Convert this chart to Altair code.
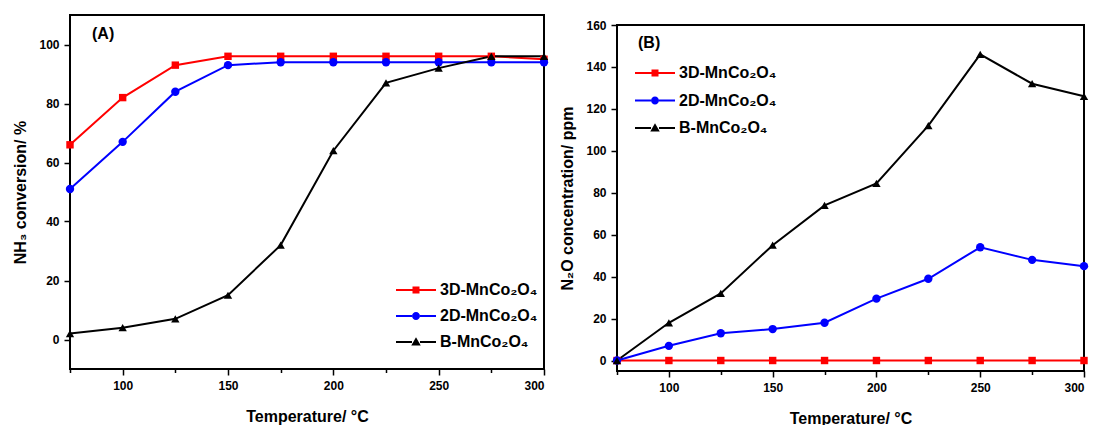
import altair as alt
import pandas as pd

temps = [75, 100, 125, 150, 175, 200, 225, 250, 275, 300]
series = ["3D-MnCo₂O₄", "2D-MnCo₂O₄", "B-MnCo₂O₄"]

nh3_3d = [66, 82, 93, 96, 96, 96, 96, 96, 96, 95]
nh3_2d = [51, 67, 84, 93, 94, 94, 94, 94, 94, 94]
nh3_b = [2, 4, 7, 15, 32, 64, 87, 92, 96, 96]

n2o_3d = [0, 0, 0, 0, 0, 0, 0, 0, 0, 0]
n2o_2d = [0, 7, 13, 15, 18, 29.5, 39, 54, 48, 45]
n2o_b = [0, 18, 32, 55, 74, 84.5, 112, 146, 132, 126]

x_ticks = [75, 100, 125, 150, 175, 200, 225, 250, 275, 300]
ya_ticks = [0, 10, 20, 30, 40, 50, 60, 70, 80, 90, 100]
yb_ticks = [0, 10, 20, 30, 40, 50, 60, 70, 80, 90, 100, 110, 120, 130, 140, 150, 160]
panel_labels = ["(A)", "(B)"]

colors = ["#ff0000", "#0000ff", "#000000"]
shapes = ["square", "circle", "triangle-up"]
marker_sizes = [55, 70, 70]
# legend glyphs: line segment with marker in the middle (unit = sqrt(size)/2)
legend_paths = [
    "M-4,-0.2H-0.7V0.2H-4Z M0.7,-0.2H4V0.2H0.7Z M-0.7,-0.7H0.7V0.7H-0.7Z",
    "M-4,-0.2H-0.8V0.2H-4Z M0.8,-0.2H4V0.2H0.8Z M0.8,0A0.8,0.8,0,1,1,-0.8,0A0.8,0.8,0,1,1,0.8,0Z",
    "M-4,-0.2H-0.8V0.2H-4Z M0.8,-0.2H4V0.2H0.8Z M0,-0.95L0.95,0.7L-0.95,0.7Z",
]

FONT = "Liberation Sans"


def make_df(vals):
    rows = []
    for s, v in zip(series, vals):
        for t, y in zip(temps, v):
            rows.append({"T": t, "val": y, "series": s})
    return pd.DataFrame(rows)


def panel(df, ydom, yticks, ytitle, label, w, h, legx, legy, rowpad, lab_xy):
    xenc = alt.X(
        "T:Q",
        scale=alt.Scale(domain=[75, 300], nice=False, zero=False),
        axis=alt.Axis(
            values=x_ticks,
            title="Temperature/ °C",
            titlePadding=17,
            labelOverlap=False,
            labelExpr="datum.value % 50 === 0 ? datum.label : ''",
            tickSize={"condition": {"test": "datum.value % 50 === 0", "value": 6}, "value": 3.5},
            labelPadding=5,
        ),
    )
    yenc = alt.Y(
        "val:Q",
        scale=alt.Scale(domain=ydom, nice=False, zero=False),
        axis=alt.Axis(
            values=yticks,
            title=ytitle,
            titlePadding=10,
            labelOverlap=False,
            labelExpr="datum.value % 20 === 0 ? datum.label : ''",
            tickSize={"condition": {"test": "datum.value % 20 === 0", "value": 6}, "value": 3.5},
            labelPadding=5,
        ),
    )
    base = alt.Chart(df)
    layers = []
    for s, col in zip(series, colors):
        sub = base.transform_filter(alt.datum.series == s)
        layers.append(sub.mark_line(strokeWidth=2, color=col).encode(x=xenc, y=yenc))
    for s, col, sh, sz in zip(series, colors, shapes, marker_sizes):
        sub = base.transform_filter(alt.datum.series == s)
        layers.append(
            sub.mark_point(shape=sh, filled=True, size=sz, opacity=1, color=col).encode(
                x="T:Q", y="val:Q"
            )
        )
    leg = alt.Legend(
        title=None,
        orient="none",
        legendX=legx,
        legendY=legy,
        labelFont=FONT,
        labelFontSize=16,
        labelFontWeight="bold",
        labelColor="black",
        labelOffset=16,
        symbolSize=100,
        symbolStrokeWidth=0,
        symbolOpacity=1,
        rowPadding=rowpad,
        padding=0,
    )
    legend_layer = (
        base.transform_filter("false")
        .mark_point(filled=True, size=100, opacity=1)
        .encode(
            color=alt.Color("series:N", scale=alt.Scale(domain=series, range=colors), legend=leg, sort=series),
            shape=alt.Shape("series:N", scale=alt.Scale(domain=series, range=legend_paths), legend=leg, sort=series),
        )
    )
    txt = (
        alt.Chart(pd.DataFrame({"label": [label]}))
        .mark_text(align="left", baseline="middle", font=FONT, fontSize=16, fontWeight="bold", color="black")
        .encode(x=alt.value(lab_xy[0]), y=alt.value(lab_xy[1]), text="label:N")
    )
    return alt.layer(*layers, legend_layer, txt).properties(width=w, height=h)


dfa = make_df([nh3_3d, nh3_2d, nh3_b])
dfb = make_df([n2o_3d, n2o_2d, n2o_b])

pa = panel(dfa, [-10, 110], ya_ticks, "NH₃ conversion/ %", panel_labels[0], 474, 354, 338, 267, 10, (22, 19))
pb = panel(dfb, [-5, 160], yb_ticks, "N₂O concentration/ ppm", panel_labels[1], 467, 346, 30, 50, 11.5, (21, 18))

# empty spacer that lowers panel B a little, as in the original figure
spacer = (
    alt.Chart(pd.DataFrame({"label": [""]}), view=alt.ViewBackground(stroke="transparent"))
    .mark_text(opacity=0)
    .encode(text="label:N")
    .properties(width=10, height=1)
)
right = alt.vconcat(spacer, pb, spacing=-3)

chart = (
    alt.hconcat(pa, right, spacing=8)
    .resolve_scale(color="independent", shape="independent")
    .resolve_legend(color="independent", shape="independent")
    .properties(padding={"left": 3, "top": 1, "right": 0, "bottom": 0})
    .configure_view(stroke="black", strokeWidth=2)
    .configure_axis(
        labelFont=FONT,
        labelFontSize=12,
        labelFontWeight="bold",
        labelColor="black",
        titleFont=FONT,
        titleFontSize=16,
        titleFontWeight="bold",
        titleColor="black",
        domain=False,
        grid=False,
        tickColor="black",
        tickWidth=1.5,
    )
)

chart.save("out.html", embed_options={"renderer": "svg", "actions": False})
